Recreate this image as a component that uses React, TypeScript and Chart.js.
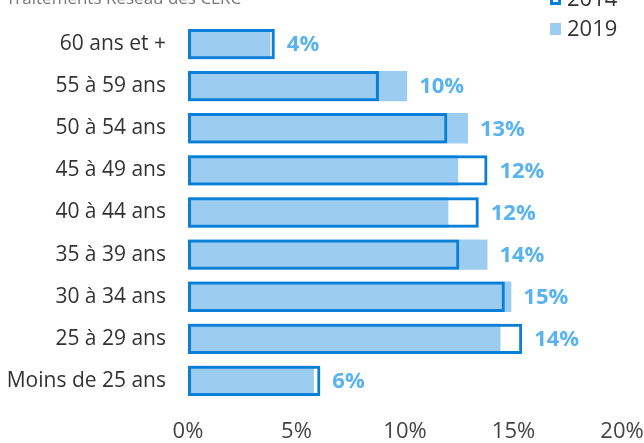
import React, { useEffect, useRef } from "react";
import { Chart, registerables } from "chart.js";

Chart.register(...registerables);

const title = "Traitements Réseau des CLRC";
const categories = [
  "60 ans et +",
  "55 à 59 ans",
  "50 à 54 ans",
  "45 à 49 ans",
  "40 à 44 ans",
  "35 à 39 ans",
  "30 à 34 ans",
  "25 à 29 ans",
  "Moins de 25 ans",
];
const series2014 = [4.0, 8.8, 11.95, 13.8, 13.4, 12.5, 14.6, 15.4, 6.1];
const series2019 = [3.8, 10.1, 12.9, 12.45, 12.0, 13.8, 14.9, 14.4, 5.8];
const xTicks = [0, 5, 10, 15, 20];

const BLUE_DARK = "#0a7fd8";
const BLUE_LIGHT = "#9ccdf1";
const LABEL_BLUE = "#5ab3f1";
const FONT = "'Open Sans', 'Noto Sans', sans-serif";

export default function App() {
  const ref = useRef<HTMLCanvasElement | null>(null);

  useEffect(() => {
    if (!ref.current) return;

    const extras = {
      id: "extras",
      afterDatasetsDraw(chart: any) {
        const ctx = chart.ctx;
        const xs = chart.scales.x;
        const ys = chart.scales.y;
        ctx.save();
        ctx.font = `bold 22px ${FONT}`;
        ctx.fillStyle = LABEL_BLUE;
        ctx.textAlign = "left";
        ctx.textBaseline = "middle";
        categories.forEach((_, i) => {
          const v = Math.max(series2014[i], series2019[i]);
          const x = xs.getPixelForValue(v) + 12;
          const y = ys.getPixelForValue(i);
          ctx.fillText(Math.round(series2019[i]) + "%", x, y + 1);
        });
        ctx.restore();
      },
      afterDraw(chart: any) {
        const ctx = chart.ctx;
        ctx.save();
        ctx.font = `17px ${FONT}`;
        ctx.fillStyle = "#777777";
        ctx.textAlign = "left";
        ctx.textBaseline = "alphabetic";
        ctx.fillText(title, 6, 4);
        ctx.font = `22px ${FONT}`;
        ctx.textBaseline = "middle";
        const items = [
          { text: chart.data.datasets[0].label, y: -1, outline: true },
          { text: chart.data.datasets[1].label, y: 29, outline: false },
        ];
        items.forEach((it) => {
          if (it.outline) {
            ctx.strokeStyle = BLUE_DARK;
            ctx.lineWidth = 3;
            ctx.fillStyle = "#ffffff";
            ctx.fillRect(550, it.y - 6, 11, 12);
            ctx.strokeRect(551.5, it.y - 4.5, 8, 9);
          } else {
            ctx.fillStyle = BLUE_LIGHT;
            ctx.fillRect(550, it.y - 6, 11, 12);
          }
          ctx.fillStyle = "#333333";
          ctx.fillText(it.text, 567, it.y + 1);
        });
        ctx.restore();
      },
    };

    const chart = new Chart(ref.current, {
      type: "bar",
      data: {
        labels: categories,
        datasets: [
          {
            label: "2014",
            data: series2014,
            backgroundColor: "rgba(255,255,255,0)",
            borderColor: BLUE_DARK,
            borderWidth: 3,
            borderSkipped: false,
            order: 0,
            grouped: false,
            barPercentage: 0.72,
            categoryPercentage: 1,
          } as any,
          {
            label: "2019",
            data: series2019,
            backgroundColor: BLUE_LIGHT,
            borderWidth: 0,
            order: 1,
            grouped: false,
            barPercentage: 0.72,
            categoryPercentage: 1,
          } as any,
        ],
      },
      options: {
        indexAxis: "y",
        responsive: false,
        animation: false,
        layout: { padding: { top: 23, right: 22, left: 0, bottom: 0 } },
        plugins: {
          legend: { display: false },
          title: { display: false },
          tooltip: { enabled: false },
        },
        scales: {
          x: {
            min: 0,
            max: 20,
            afterBuildTicks: (scale: any) => {
              scale.ticks = xTicks.map((v) => ({ value: v }));
            },
            afterFit: (scale: any) => {
              scale.height = 41;
              scale.paddingLeft = 0;
              scale.paddingRight = 0;
            },
            ticks: {
              padding: 17,
              font: { family: FONT, size: 22 },
              color: "#444444",
              callback: (v: any) => v + "%",
            },
            grid: { display: false, drawTicks: false, tickLength: 0 },
            border: { display: false },
          },
          y: {
            afterFit: (scale: any) => {
              scale.width = 188;
              scale.paddingTop = 0;
              scale.paddingBottom = 0;
            },
            ticks: {
              padding: 22,
              font: { family: FONT, size: 21 },
              color: "#333333",
            },
            grid: { display: false, drawTicks: false, tickLength: 0 },
            border: { display: false },
          },
        },
      },
      plugins: [extras],
    });

    return () => chart.destroy();
  }, []);

  return (
    <div style={{ position: "absolute", left: 0, top: 0, width: 644, height: 443, background: "#fff" }}>
      <canvas ref={ref} width={644} height={443} style={{ display: "block" }} />
    </div>
  );
}
